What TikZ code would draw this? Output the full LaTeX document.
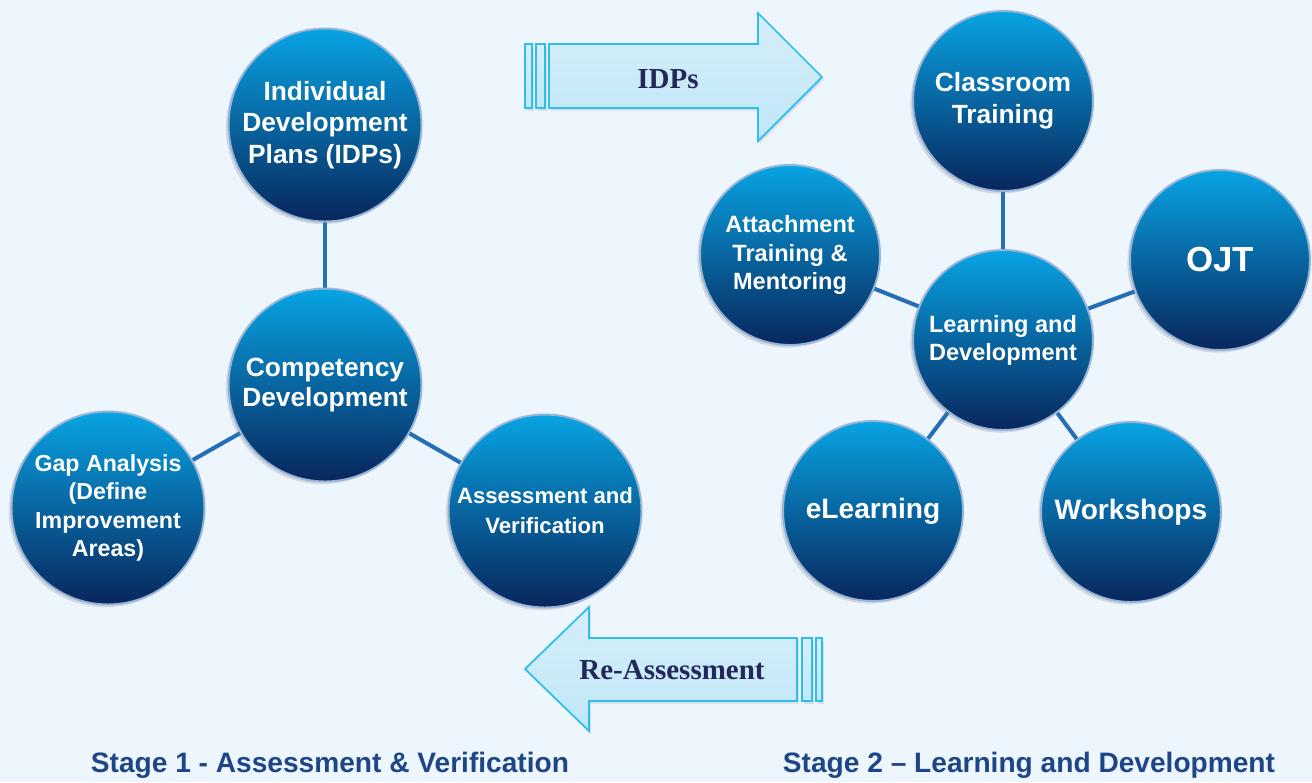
\documentclass[tikz,border=0pt]{standalone}
\usepackage{fontspec}
\setmainfont{Liberation Serif}
\setsansfont{Liberation Sans}
\usetikzlibrary{backgrounds,shadows}
\definecolor{page_bg}{RGB}{238,246,253}
\definecolor{ball_top}{RGB}{8,164,228}
\definecolor{ball_bot}{RGB}{8,38,92}
\definecolor{ball_rim}{RGB}{150,180,215}
\definecolor{link_blue}{RGB}{35,110,180}
\definecolor{arr_top}{RGB}{214,238,250}
\definecolor{arr_bot}{RGB}{192,231,247}
\definecolor{arr_line}{RGB}{45,190,235}
\definecolor{arr_text}{RGB}{35,40,90}
\definecolor{stage_text}{RGB}{30,70,135}

\begin{document}
\begin{tikzpicture}[x=0.02cm,y=-0.02cm]
    \tikzstyle{ball}=[circle, inner sep=0pt, draw=ball_rim, line width=1.1pt, top color=ball_top, bottom color=ball_bot, text=white, align=center, drop shadow={opacity=0.25,shadow xshift=-1.5pt,shadow yshift=-1.5pt}]
    \tikzstyle{big}=[style=ball, minimum size=3.86cm]
    \tikzstyle{small}=[style=ball, minimum size=3.6cm]
    \tikzstyle{link}=[draw=link_blue, line width=2.3pt]
    \tikzstyle{fat}=[draw=arr_line, line width=1pt, top color=arr_top, bottom color=arr_bot, drop shadow={opacity=0.2,shadow xshift=1pt,shadow yshift=-1.5pt}]
    \tikzstyle{fatlabel}=[text=arr_text, font=\bfseries\fontsize{16.5}{20}\selectfont]
    \tikzstyle{stage}=[text=stage_text, font=\sffamily\bfseries\fontsize{16}{19}\selectfont]

    \useasboundingbox (0,0) rectangle (1312,782);

    % stage 1
    \node[big, font=\sffamily\bfseries\fontsize{15}{18}\selectfont]   (idp)  at (325,125) {Individual\\Development\\Plans (IDPs)};
    \node[big, font=\sffamily\bfseries\fontsize{15}{17}\selectfont]   (comp) at (325,385) {Competency\\Development};
    \node[big, font=\sffamily\bfseries\fontsize{13.2}{16}\selectfont] (gap)  at (108,508) {Gap Analysis\\(Define\\Improvement\\Areas)};
    \node[big, font=\sffamily\bfseries\fontsize{12.6}{17}\selectfont] (ver)  at (545,511) {Assessment and\\Verification};

    % stage 2
    \node[small, font=\sffamily\bfseries\fontsize{15}{18}\selectfont]   (class) at (1003,101) {Classroom\\Training};
    \node[small, font=\sffamily\bfseries\fontsize{19.8}{22}\selectfont] (ojt)   at (1220,260) {OJT};
    \node[small, font=\sffamily\bfseries\fontsize{13.4}{16}\selectfont] (att)   at (790,255)  {Attachment\\Training \&\\Mentoring};
    \node[small, font=\sffamily\bfseries\fontsize{13.4}{16}\selectfont] (learn) at (1003,340) {Learning and\\Development};
    \node[small, font=\sffamily\bfseries\fontsize{16}{18}\selectfont]   (elrn)  at (873,511)  {eLearning};
    \node[small, font=\sffamily\bfseries\fontsize{16}{18}\selectfont]   (work)  at (1131,512) {Workshops};

    \begin{scope}[on background layer]
      \fill[page_bg] (0,0) rectangle (1312,782);
      \path
       (comp)  edge[link] (idp)
       (comp)  edge[link] (gap)
       (comp)  edge[link] (ver)
       (learn) edge[link] (class)
       (learn) edge[link] (ojt)
       (learn) edge[link] (att)
       (learn) edge[link] (elrn)
       (learn) edge[link] (work)
       ;
    \end{scope}

    % block arrows
    \path[fat] (525,44) rectangle (532,108);
    \path[fat] (536,44) rectangle (545,108);
    \path[fat] (549,44) -- (758,44) -- (758,13) -- (822,77) -- (758,141) -- (758,108) -- (549,108) -- cycle;
    \node[fatlabel] (idps) at (668,79) {IDPs};

    \path[fat] (816,638) rectangle (822,701);
    \path[fat] (802,638) rectangle (812,701);
    \path[fat] (797,638) -- (589,638) -- (589,607) -- (525,669) -- (589,731) -- (589,701) -- (797,701) -- cycle;
    \node[fatlabel] (reas) at (672,670) {Re-Assessment};

    \node[stage] (st1) at (330,765) {Stage 1 - Assessment \& Verification};
    \node[stage] (st2) at (1029,765) {Stage 2 – Learning and Development};
\end{tikzpicture}
\end{document}
